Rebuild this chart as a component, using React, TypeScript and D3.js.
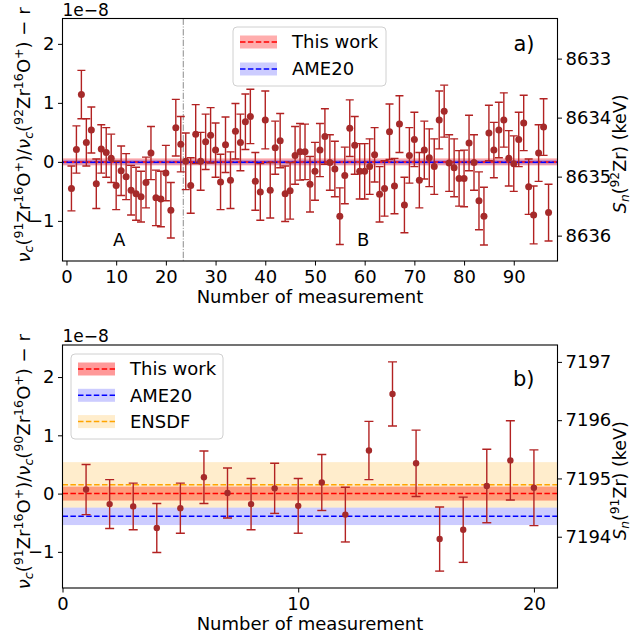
import React, { useEffect, useRef } from 'react';
import * as d3 from 'd3';

// panel a) : 91Zr16O+ / 92Zr16O+
const topValues = [
  -0.45, 0.21, 1.14, 0.33, 0.54, -0.37, 0.22, 0.16, 0.06, -0.4,
  -0.15, -0.25, -0.48, -0.54, -0.59, -0.35, 0.15, -0.61, -0.63, -0.19,
  -0.82, 0.58, 0.3, 0.01, -0.4, 0.47, 0.01, 0.34, 0.45, 0.2,
  -0.34, 0.29, -0.31, 0.52, 0.33, 0.68, 0.77, -0.33, -0.51, 0.71,
  -0.48, 0.24, 0.36, -0.54, -0.49, 0.11, 0.17, 0.17, -0.38, -0.16,
  0.2, 0.43, -0.01, -0.12, -0.92, -0.23, 0.57, 0.28, -0.16, -0.16,
  -0.08, 0.12, -0.55, -0.45, 0.51, -0.41, 0.64, -0.73, 0.11, 0.38,
  -0.31, 0.2, 0.07, -0.08, 0.71, 0.86, -0.02, -0.1, -0.28, -0.28,
  0.32, -0.01, -0.66, -0.92, 0.49, 0.2, 0.54, 0.71, 0.06, -0.03,
  0.38, 0.66, -0.42, -0.9, 0.15, 0.59, -0.86,
];
const topErrors = [
  0.38, 0.4, 0.41, 0.4, 0.39, 0.42, 0.41, 0.42, 0.41, 0.41,
  0.42, 0.39, 0.42, 0.45, 0.43, 0.43, 0.45, 0.47, 0.47, 0.47,
  0.47, 0.48, 0.47, 0.48, 0.47, 0.5, 0.49, 0.47, 0.47, 0.46,
  0.47, 0.47, 0.48, 0.47, 0.48, 0.47, 0.46, 0.49, 0.48, 0.49,
  0.47, 0.45, 0.46, 0.47, 0.48, 0.49, 0.48, 0.47, 0.47, 0.49,
  0.45, 0.47, 0.47, 0.47, 0.48, 0.48, 0.48, 0.49, 0.47, 0.47,
  0.47, 0.46, 0.47, 0.47, 0.47, 0.47, 0.48, 0.47, 0.47, 0.46,
  0.47, 0.49, 0.49, 0.47, 0.49, 0.44, 0.48, 0.49, 0.47, 0.48,
  0.47, 0.47, 0.49, 0.49, 0.47, 0.47, 0.47, 0.46, 0.47, 0.47,
  0.46, 0.47, 0.47, 0.49, 0.48, 0.48, 0.48,
];
const topThisWork = [0, 0.06]; // centre, half width
const topAme20 = [-0.005, 0.04];
const topSplit = 23.5;
const topXTicks = [0, 10, 20, 30, 40, 50, 60, 70, 80, 90];
const topYTicks = [-1, 0, 1, 2];
const topSnTicks = [8633, 8634, 8635, 8636];
const topSnAtZero = 8634.75; // S_n grows downwards here

// panel b) : 91Zr16O+ / 90Zr16O+
const botValues = [
  0.07, -0.18, -0.22, -0.59, -0.25, 0.28, 0.01, -0.18, 0.09, -0.21,
  0.19, -0.36, 0.74, 1.71, 0.52, -0.78, -0.62, 0.13, 0.57, 0.1,
];
const botErrors = [
  0.43, 0.42, 0.4, 0.42, 0.43, 0.45, 0.43, 0.44, 0.43, 0.47,
  0.48, 0.47, 0.5, 0.55, 0.57, 0.55, 0.56, 0.63, 0.68, 0.65,
];
const botThisWork = [0, 0.12];
const botAme20 = [-0.39, 0.15];
const botEnsdf = [0.15, 0.39];
const botXTicks = [0, 10, 20];
const botYTicks = [-1, 0, 1, 2];
const botSnTicks = [7194, 7195, 7196, 7197];
const botSnAtZero = 7194.74; // S_n grows upwards here

const FONT = 'DejaVu Sans, Verdana, sans-serif';

type Seg = { t: string; sup?: boolean; sub?: boolean; it?: boolean };

const rich = (sel: any, segs: Seg[], size: number) => {
  let shift = 0;
  segs.forEach((s) => {
    const target = s.sup ? -0.38 * size : s.sub ? 0.18 * size : 0;
    sel
      .append('tspan')
      .attr('dy', target - shift)
      .attr('font-size', s.sup || s.sub ? size * 0.7 : size)
      .attr('font-style', s.it ? 'italic' : 'normal')
      .text(s.t);
    shift = target;
  });
};

const App = () => {
  const ref = useRef<SVGSVGElement | null>(null);

  useEffect(() => {
    const svg = d3.select(ref.current);
    svg.selectAll('*').remove();

    const panel = (o: any) => {
      const { box, xDom, yDom } = o;
      const x = d3.scaleLinear().domain(xDom).range([box.l, box.r]);
      const y = d3.scaleLinear().domain(yDom).range([box.b, box.t]);
      const sn = d3
        .scaleLinear()
        .domain([o.snZero + o.snSign * yDom[1], o.snZero + o.snSign * yDom[0]])
        .range([box.t, box.b]);
      const midY = (box.t + box.b) / 2;

      const g = svg.append('g');
      const clipId = 'clip' + o.id;
      g.append('clipPath')
        .attr('id', clipId)
        .append('rect')
        .attr('x', box.l)
        .attr('y', box.t)
        .attr('width', box.r - box.l)
        .attr('height', box.b - box.t);
      const plot = g.append('g').attr('clip-path', `url(#${clipId})`);

      // bands
      o.bands.forEach((b: any) => {
        plot
          .append('rect')
          .attr('x', box.l)
          .attr('width', box.r - box.l)
          .attr('y', y(b.v[0] + b.v[1]))
          .attr('height', y(b.v[0] - b.v[1]) - y(b.v[0] + b.v[1]))
          .attr('fill', b.fill)
          .attr('fill-opacity', b.op);
      });
      o.bands.forEach((b: any) => {
        plot
          .append('line')
          .attr('x1', box.l)
          .attr('x2', box.r)
          .attr('y1', y(b.v[0]))
          .attr('y2', y(b.v[0]))
          .attr('stroke', b.line)
          .attr('stroke-width', 1.5)
          .attr('stroke-dasharray', '5.5,2.4')
          .attr('stroke-dashoffset', b.off || 0);
      });

      if (o.split !== undefined) {
        plot
          .append('line')
          .attr('x1', x(o.split))
          .attr('x2', x(o.split))
          .attr('y1', box.t)
          .attr('y2', box.b)
          .attr('stroke', '#8c8c8c')
          .attr('stroke-width', 1)
          .attr('stroke-dasharray', '6.4,1.6,1,1.6');
      }

      // error bars
      const pts = o.values.map((v: number, i: number) => ({ n: i + 1, v, e: o.errors[i] }));
      const eb = plot.append('g').attr('stroke', '#b22222').attr('stroke-width', 1.4);
      pts.forEach((p: any) => {
        const cx = x(p.n);
        eb.append('line').attr('x1', cx).attr('x2', cx).attr('y1', y(p.v - p.e)).attr('y2', y(p.v + p.e));
        [p.v - p.e, p.v + p.e].forEach((w) => {
          eb.append('line')
            .attr('x1', cx - o.cap)
            .attr('x2', cx + o.cap)
            .attr('y1', y(w))
            .attr('y2', y(w));
        });
      });
      plot
        .append('g')
        .selectAll('circle')
        .data(pts)
        .enter()
        .append('circle')
        .attr('cx', (d: any) => x(d.n))
        .attr('cy', (d: any) => y(d.v))
        .attr('r', o.r)
        .attr('fill', '#a52a2a');

      // axes
      const style = (ag: any) => {
        ag.select('.domain').remove();
        ag.selectAll('line').attr('stroke', '#000').attr('stroke-width', 1);
        ag.selectAll('text').attr('font-family', FONT).attr('font-size', 18).attr('fill', '#000');
      };
      g.append('g')
        .attr('transform', `translate(0,${box.b})`)
        .call(d3.axisBottom(x).tickValues(o.xTicks).tickSize(4.5).tickPadding(4.5).tickFormat(d3.format('d')))
        .call(style);
      g.append('g')
        .attr('transform', `translate(${box.l},0)`)
        .call(d3.axisLeft(y).tickValues(o.yTicks).tickSize(4.5).tickPadding(3.5).tickFormat(d3.format('d')))
        .call(style);
      g.append('g')
        .attr('transform', `translate(${box.r},0)`)
        .call(d3.axisRight(sn).tickValues(o.snTicks).tickSize(4.5).tickPadding(3.5).tickFormat(d3.format('d')))
        .call(style);

      g.append('rect')
        .attr('x', box.l)
        .attr('y', box.t)
        .attr('width', box.r - box.l)
        .attr('height', box.b - box.t)
        .attr('fill', 'none')
        .attr('stroke', '#000')
        .attr('stroke-width', 1.1);

      // offset text
      g.append('text')
        .attr('x', box.l)
        .attr('y', box.t - 3)
        .attr('font-family', FONT)
        .attr('font-size', 17)
        .text('1e\u22128');

      // panel tag
      g.append('text')
        .attr('x', box.r - 23)
        .attr('y', box.t + o.tagDy)
        .attr('text-anchor', 'end')
        .attr('font-family', FONT)
        .attr('font-size', 21)
        .text(o.tag);

      // x label
      g.append('text')
        .attr('x', (box.l + box.r) / 2)
        .attr('y', box.b + 42)
        .attr('text-anchor', 'middle')
        .attr('font-family', FONT)
        .attr('font-size', 18)
        .text('Number of measurement');

      // y label
      const yl = g
        .append('text')
        .attr('transform', `translate(30,${midY - 4.75}) rotate(-90)`)
        .attr('text-anchor', 'middle')
        .attr('font-family', FONT);
      rich(
        yl,
        [
          { t: '\u03bd', it: true },
          { t: 'c', sub: true, it: true },
          { t: '(' },
          { t: '91', sup: true },
          { t: 'Zr' },
          { t: '16', sup: true },
          { t: 'O' },
          { t: '+', sup: true },
          { t: ')/' },
          { t: '\u03bd', it: true },
          { t: 'c', sub: true, it: true },
          { t: '(' },
          { t: o.ref, sup: true },
          { t: 'Zr' },
          { t: '16', sup: true },
          { t: 'O' },
          { t: '+', sup: true },
          { t: ') \u2212 r' },
        ],
        18
      );

      const rl = g
        .append('text')
        .attr('transform', `translate(626,${midY + 14}) rotate(-90)`)
        .attr('text-anchor', 'middle')
        .attr('font-family', FONT);
      rich(
        rl,
        [
          { t: 'S', it: true },
          { t: 'n', sub: true, it: true },
          { t: '(' },
          { t: o.sn, sup: true },
          { t: 'Zr) (keV)' },
        ],
        17.5
      );

      // legend
      const L = o.legend;
      const lg = g.append('g');
      lg.append('rect')
        .attr('x', L.x)
        .attr('y', L.y)
        .attr('width', L.w)
        .attr('height', L.h)
        .attr('rx', 4)
        .attr('fill', '#fff')
        .attr('fill-opacity', 0.8)
        .attr('stroke', '#d0d0d0');
      o.bands.forEach((b: any, i: number) => {
        const cy = L.y + L.first + i * L.step;
        lg.append('rect')
          .attr('x', L.x + 7)
          .attr('y', cy - 6.5)
          .attr('width', 37)
          .attr('height', 13)
          .attr('fill', b.fill)
          .attr('fill-opacity', b.op);
        lg.append('line')
          .attr('x1', L.x + 7)
          .attr('x2', L.x + 44)
          .attr('y1', cy)
          .attr('y2', cy)
          .attr('stroke', b.line)
          .attr('stroke-width', 1.5)
          .attr('stroke-dasharray', '5.5,2.4');
        lg.append('text')
          .attr('x', L.x + 59)
          .attr('y', cy)
          .attr('dy', '0.36em')
          .attr('font-family', FONT)
          .attr('font-size', 18)
          .text(b.name);
      });

      // annotations
      (o.notes || []).forEach((nt: any) => {
        g.append('text')
          .attr('x', x(nt.x))
          .attr('y', y(nt.y))
          .attr('text-anchor', 'middle')
          .attr('font-family', FONT)
          .attr('font-size', 18)
          .text(nt.t);
      });
    };

    panel({
      id: 'a',
      box: { l: 62.5, r: 557.5, t: 18.5, b: 261 },
      xDom: [-0.8, 98.8],
      yDom: [-1.68, 2.43],
      snZero: topSnAtZero,
      snSign: -1,
      values: topValues,
      errors: topErrors,
      cap: 4,
      r: 3.5,
      split: topSplit,
      xTicks: topXTicks,
      yTicks: topYTicks,
      snTicks: topSnTicks,
      tag: 'a)',
      tagDy: 32,
      ref: '92',
      sn: '92',
      bands: [
        { name: 'This work', v: topThisWork, fill: '#ff0000', op: 0.32, line: '#ff0000' },
        { name: 'AME20', v: topAme20, fill: '#0000ff', op: 0.2, line: '#0000ff', off: 3.9 },
      ],
      legend: { x: 233, y: 27, w: 153, h: 59, first: 15, step: 27 },
      notes: [
        { t: 'A', x: 10.6, y: -1.42 },
        { t: 'B', x: 59.7, y: -1.42 },
      ],
    });

    panel({
      id: 'b',
      box: { l: 62.5, r: 557.5, t: 345, b: 588 },
      xDom: [0, 21],
      yDom: [-1.62, 2.55],
      snZero: botSnAtZero,
      snSign: 1,
      values: botValues,
      errors: botErrors,
      cap: 4.5,
      r: 3.2,
      xTicks: botXTicks,
      yTicks: botYTicks,
      snTicks: botSnTicks,
      tag: 'b)',
      tagDy: 41,
      ref: '90',
      sn: '91',
      bands: [
        { name: 'This work', v: botThisWork, fill: '#ff0000', op: 0.4, line: '#ff0000' },
        { name: 'AME20', v: botAme20, fill: '#0000ff', op: 0.2, line: '#0000ff' },
        { name: 'ENSDF', v: botEnsdf, fill: '#ffa500', op: 0.2, line: '#ffa500' },
      ],
      legend: { x: 71, y: 354, w: 152, h: 85, first: 15, step: 26.3 },
    });
  }, []);

  return (
    <svg
      ref={ref}
      width={632}
      height={642}
      style={{ position: 'absolute', left: 0, top: 0, background: '#fff' }}
    />
  );
};

export default App;
